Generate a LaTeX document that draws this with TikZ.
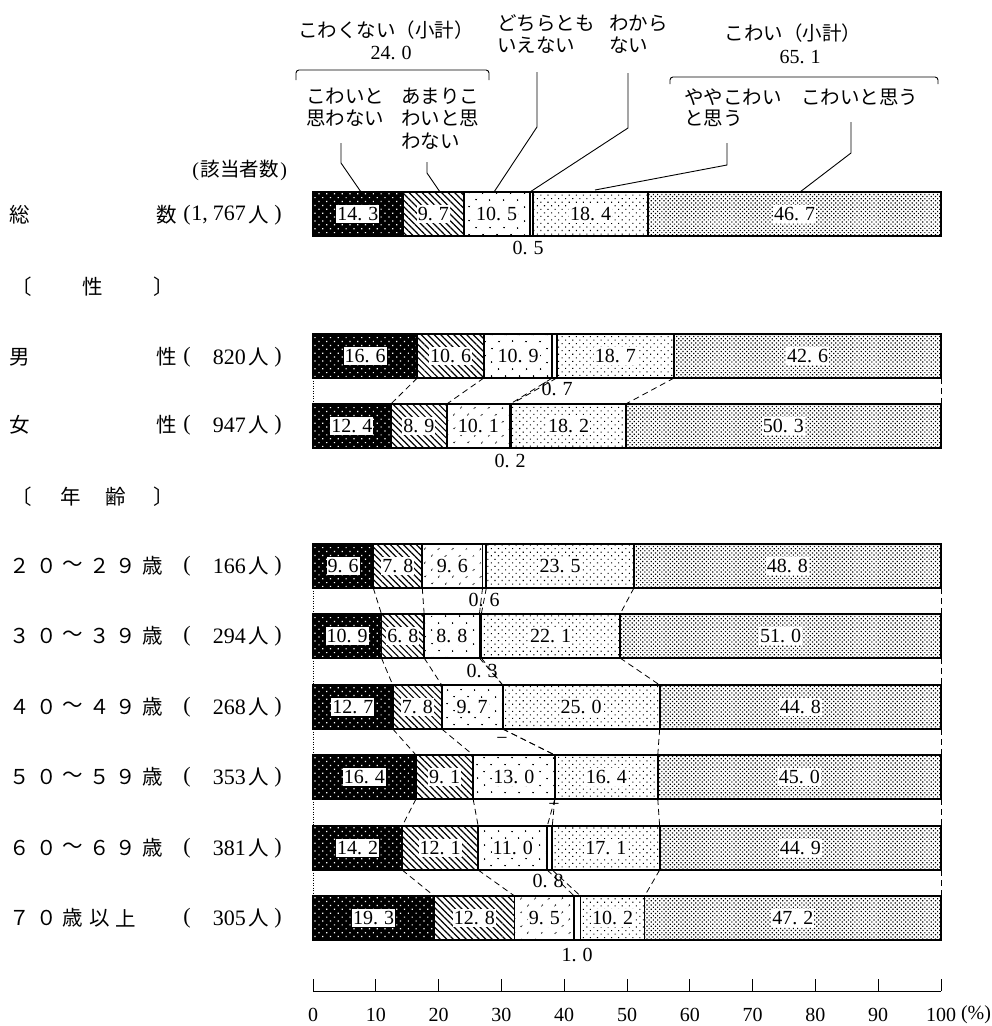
\documentclass[tikz,border=0pt]{standalone}
\usepackage{fontspec}
\setmainfont{Liberation Serif}
\newfontfamily\jpfam{Noto Sans CJK JP}
\usetikzlibrary{patterns.meta}
\def\splitnum#1.#2\relax{#1.\kern0.3em#2}
\newcommand\numtxt[1]{\splitnum#1\relax}
\newcommand\jtext[1]{{\jpfam\fontsize{19.5}{22}\selectfont #1}}
\tikzset{
  every node/.style={font=\fontsize{20}{24}\selectfont, inner sep=0pt},
  jp/.style={font=\jpfam\fontsize{19.5}{22}\selectfont},
  jprow/.style={font=\jpfam\fontsize{20.5}{24}\selectfont},
  numrow/.style={font=\fontsize{22}{26}\selectfont},
  val/.style={fill=white, inner xsep=1pt, inner ysep=2.5pt},
  small/.style={},
  lead/.style={line width=0.9pt},
  conn/.style={line width=0.8pt, dash pattern=on 6pt off 4pt},
  edgedot/.style={line width=0.6pt, dash pattern=on 1pt off 1.5pt},
  edgedash/.style={line width=0.8pt, dash pattern=on 6pt off 4pt},
  barline/.style={line width=1.8pt},
  pat1/.style={pattern={Dots[distance=5.5pt, radius=0.85pt, angle=45]}, pattern color=white},
  pat2/.style={pattern={Lines[angle=-45, distance=4.6pt, line width=1.2pt]}, pattern color=black},
  pat3/.style={pattern={Dots[distance=10.5pt, radius=0.95pt, angle=45]}, pattern color=black},
  pat5/.style={pattern={Dots[distance=5pt, radius=0.75pt, angle=45]}, pattern color=black},
  pat6/.style={pattern={Dots[distance=3pt, radius=0.85pt, angle=45]}, pattern color=black},
}
\newcommand\drawbar[8]{%
  \pgfmathsetmacro\xA{313+6.28*(#3)}%
  \pgfmathsetmacro\xB{\xA+6.28*(#4)}%
  \pgfmathsetmacro\xC{\xB+6.28*(#5)}%
  \pgfmathsetmacro\xD{\xC+6.28*(#6)}%
  \pgfmathsetmacro\xE{\xD+6.28*(#7)}%
  \pgfmathsetmacro\yT{#2}%
  \pgfmathsetmacro\yB{#2+44}%
  \pgfmathsetmacro\yM{#2+22}%
  \fill[black] (313,\yT) rectangle (\xA,\yB);
  \fill[pat1] (313,\yT) rectangle (\xA,\yB);
  \fill[pat2] (\xA,\yT) rectangle (\xB,\yB);
  \fill[pat3] (\xB,\yT) rectangle (\xC,\yB);
  \fill[pat5] (\xD,\yT) rectangle (\xE,\yB);
  \fill[pat6] (\xE,\yT) rectangle (941,\yB);
  \foreach \xx in {\xA,\xB,\xC,\xD,\xE} \draw[barline] (\xx,\yT) -- (\xx,\yB);
  \draw[barline] (313,\yT) rectangle (941,\yB);
  \coordinate (#1t0) at (313,\yT); \coordinate (#1b0) at (313,\yB);
  \coordinate (#1t1) at (\xA,\yT); \coordinate (#1b1) at (\xA,\yB);
  \coordinate (#1t2) at (\xB,\yT); \coordinate (#1b2) at (\xB,\yB);
  \coordinate (#1t3) at (\xC,\yT); \coordinate (#1b3) at (\xC,\yB);
  \coordinate (#1t4) at (\xD,\yT); \coordinate (#1b4) at (\xD,\yB);
  \coordinate (#1t5) at (\xE,\yT); \coordinate (#1b5) at (\xE,\yB);
  \coordinate (#1t6) at (941,\yT); \coordinate (#1b6) at (941,\yB);
  \node[val] (#1v1) at ({(313+\xA)/2},\yM) {\numtxt{#3}};
  \node[val] (#1v2) at ({(\xA+\xB)/2},\yM) {\numtxt{#4}};
  \node[val] (#1v3) at ({(\xB+\xC)/2},\yM) {\numtxt{#5}};
  \node[val] (#1v5) at ({(\xD+\xE)/2},\yM) {\numtxt{#7}};
  \node[val] (#1v6) at ({(\xE+941)/2},\yM) {\numtxt{#8}};
}
\newcommand\connect[2]{%
  \draw[edgedot] (#1b0) -- (#2t0);
  \draw[edgedash] (#1b6) -- (#2t6);
  \foreach \k in {1,...,5} \draw[conn] (#1b\k) -- (#2t\k);
}
% count label: name, y, digits
\newcommand\cntrow[3]{%
  \node[numrow] (#1o) at (187,#2) {(};
  \node[numrow,anchor=east] (#1n) at (246,#2) {#3};
  \node[jprow] (#1r) at (259,#2) {人};
  \node[numrow] (#1c) at (278,#2) {)};
}
\begin{document}
\begin{tikzpicture}[x=1pt,y=-1pt]
\fill[white] (0,0) rectangle (992,1026);
\useasboundingbox (0,0) rectangle (992,1026);

% header labels
\node[jp] (h1) at (386,30) {こわくない（小計）};
\node (h1v) at (391,53) {\numtxt{24.0}};
\draw[lead, rounded corners=3pt] (296,80) -- (296,70) -- (489,70) -- (489,80);
\node[jp,anchor=west] (h2a) at (306,96) {こわいと};
\node[jp,anchor=west] (h2b) at (306,118) {思わない};
\node[jp,anchor=west] (h3a) at (401,96) {あまりこ};
\node[jp,anchor=west] (h3b) at (401,118) {わいと思};
\node[jp,anchor=west] (h3c) at (401,141) {わない};
\node[jp,anchor=west] (h4a) at (497,23) {どちらとも};
\node[jp,anchor=west] (h4b) at (497,45) {いえない};
\node[jp,anchor=west] (h5a) at (609,23) {わから};
\node[jp,anchor=west] (h5b) at (609,45) {ない};
\node[jp] (h6) at (793,33) {こわい（小計）};
\node (h6v) at (800,57) {\numtxt{65.1}};
\draw[lead, rounded corners=3pt] (670,84) -- (670,77) -- (938,77) -- (938,84);
\node[jp,anchor=west] (h7a) at (684,97) {ややこわい};
\node[jp,anchor=west] (h7b) at (684,118) {と思う};
\node[jp,anchor=west] (h8) at (801,97) {こわいと思う};
\node[anchor=east] (h9) at (289,170) {\makebox[10pt]{(}\jtext{該当者数}\makebox[10pt]{)}};

% bars
\drawbar{T}{192}{14.3}{9.7}{10.5}{0.5}{18.4}{46.7}
\drawbar{M}{334}{16.6}{10.6}{10.9}{0.7}{18.7}{42.6}
\drawbar{F}{404}{12.4}{8.9}{10.1}{0.2}{18.2}{50.3}
\drawbar{A2}{544}{9.6}{7.8}{9.6}{0.6}{23.5}{48.8}
\drawbar{A3}{614}{10.9}{6.8}{8.8}{0.3}{22.1}{51.0}
\drawbar{A4}{685}{12.7}{7.8}{9.7}{0}{25.0}{44.8}
\drawbar{A5}{755}{16.4}{9.1}{13.0}{0}{16.4}{45.0}
\drawbar{A6}{826}{14.2}{12.1}{11.0}{0.8}{17.1}{44.9}
\drawbar{A7}{896}{19.3}{12.8}{9.5}{1.0}{10.2}{47.2}

% connectors between bars
\connect{M}{F}
\connect{A2}{A3}
\connect{A3}{A4}
\connect{A4}{A5}
\connect{A5}{A6}
\connect{A6}{A7}

% leader lines from header labels
\coordinate (L1a) at (341,143); \coordinate (L1b) at (341,163);
\coordinate (L2a) at (427,162); \coordinate (L2b) at (427,173);
\coordinate (L3a) at (537,72);  \coordinate (L3b) at (537,127);
\coordinate (L4a) at (628,73);  \coordinate (L4b) at (628,128);
\coordinate (L5a) at (727,143); \coordinate (L5b) at (727,165);
\coordinate (L6a) at (851,122); \coordinate (L6b) at (851,153);
\coordinate (E1) at (361,192); \coordinate (E2) at (440,192);
\coordinate (E3) at (494,192); \coordinate (E4) at (530,192);
\coordinate (E5) at (595,190); \coordinate (E6) at (800,192);
\draw[lead] (L1a) -- (L1b) -- (E1);
\draw[lead] (L2a) -- (L2b) -- (E2);
\draw[lead] (L3a) -- (L3b) -- (E3);
\draw[lead] (L4a) -- (L4b) -- (E4);
\draw[lead] (L5a) -- (L5b) -- (E5);
\draw[lead] (L6a) -- (L6b) -- (E6);

% small value labels
\node[small] (sT) at (528,248) {\numtxt{0.5}};
\node[small] (sM) at (557,389) {\numtxt{0.7}};
\node[small] (sF) at (510,461) {\numtxt{0.2}};
\node[small] (s2) at (484,600) {\numtxt{0.6}};
\node[small] (s3) at (482,671) {\numtxt{0.3}};
\node[small] (s4) at (502,741) {−};
\node[small] (s5) at (554,807) {−};
\node[small] (s6) at (548,881) {\numtxt{0.8}};
\node[small] (s7) at (577,955) {\numtxt{1.0}};

% row labels
\node[jprow] (r1a) at (20,215) {総};
\node[jprow] (r1b) at (167,215) {数};
\cntrow{rc1}{215}{1,\kern5pt767}
\node[jprow] (g1a) at (22,287) {〔};
\node[jprow] (g1b) at (93,287) {性};
\node[jprow] (g1c) at (164,287) {〕};
\node[jprow] (r2a) at (20,357) {男};
\node[jprow] (r2b) at (167,357) {性};
\cntrow{rc2}{357}{820}
\node[jprow] (r3a) at (20,425) {女};
\node[jprow] (r3b) at (167,425) {性};
\cntrow{rc3}{425}{947}
\node[jprow] (g2a) at (22,497) {〔};
\node[jprow] (g2b) at (71,497) {年};
\node[jprow] (g2c) at (116,497) {齢};
\node[jprow] (g2d) at (164,497) {〕};
\foreach \lab/\yy/\c [count=\n] in {{２,０,～,２,９,歳}/566/166, {３,０,～,３,９,歳}/636/294, {４,０,～,４,９,歳}/707/268, {５,０,～,５,９,歳}/777/353, {６,０,～,６,９,歳}/848/381, {７,０,歳,以,上}/918/305}{
  \foreach \ch [count=\k from 0] in \lab {
    \node[jprow] (ag\n-\k) at (20+26.5*\k,\yy) {\ch};
  }
  \cntrow{agc\n}{\yy}{\c}
}

% axis
\coordinate (ax0) at (313,991);
\coordinate (ax100) at (941,991);
\draw[line width=0.9pt] (ax0) -- (ax100);
\foreach \i in {0,...,10} {
  \draw[line width=0.9pt] (313+62.8*\i,991) -- (313+62.8*\i,979);
  \pgfmathtruncatemacro\lbl{10*\i}
  \node (tk\i) at (313+62.8*\i,1015) {\lbl};
}
\node (pct) at (976,1015) {(\%)};
\end{tikzpicture}
\end{document}
